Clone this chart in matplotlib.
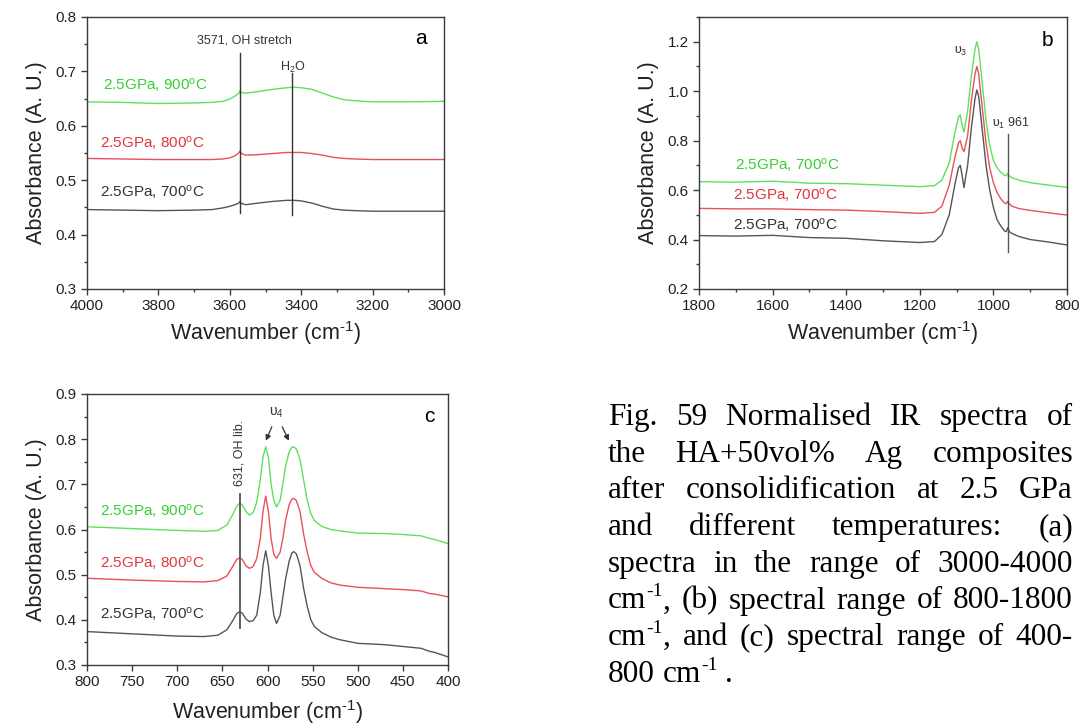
import re
import matplotlib
matplotlib.use("Agg")
import matplotlib.pyplot as plt
from matplotlib.ticker import MultipleLocator

plt.rcParams['font.family'] = ['Liberation Sans', 'DejaVu Sans']
plt.rcParams['mathtext.default'] = 'regular'

# ---------------- data ----------------
# (a) 4000-3000 cm-1
wn_a = [4000, 3900, 3800, 3700, 3650, 3620, 3600, 3585, 3575, 3571, 3567, 3555,
        3520, 3480, 3440, 3420, 3400, 3370, 3340, 3310, 3280, 3250, 3200, 3100, 3000]
a_700 = [0.446, 0.445, 0.444, 0.445, 0.446, 0.449, 0.452, 0.455, 0.458, 0.461, 0.457, 0.455,
         0.458, 0.461, 0.463, 0.463, 0.462, 0.458, 0.452, 0.447, 0.445, 0.444, 0.443, 0.443, 0.443]
a_800 = [0.540, 0.539, 0.538, 0.538, 0.538, 0.539, 0.541, 0.545, 0.550, 0.554, 0.549, 0.546,
         0.547, 0.549, 0.551, 0.551, 0.551, 0.549, 0.546, 0.542, 0.540, 0.539, 0.538, 0.538, 0.538]
a_900 = [0.644, 0.643, 0.641, 0.642, 0.643, 0.645, 0.649, 0.655, 0.660, 0.665, 0.661, 0.660,
         0.663, 0.667, 0.670, 0.671, 0.670, 0.667, 0.660, 0.653, 0.648, 0.646, 0.644, 0.644, 0.645]

# (b) 1800-800 cm-1
wn_b = [1800, 1700, 1600, 1500, 1400, 1300, 1200, 1160, 1140, 1120, 1105, 1095, 1090, 1085,
        1080, 1070, 1060, 1050, 1045, 1040, 1030, 1020, 1010, 1000, 990, 980, 970, 965, 961,
        957, 950, 930, 900, 850, 800]
b_1 = [0.416, 0.414, 0.417, 0.408, 0.405, 0.395, 0.388, 0.392, 0.420, 0.500, 0.620, 0.690, 0.700,
       0.660, 0.610, 0.700, 0.850, 0.970, 1.005, 0.980, 0.840, 0.700, 0.600, 0.530, 0.480, 0.455,
       0.435, 0.432, 0.448, 0.432, 0.425, 0.412, 0.400, 0.390, 0.378]
b_2 = [0.526, 0.524, 0.524, 0.521, 0.519, 0.513, 0.506, 0.510, 0.535, 0.620, 0.730, 0.790, 0.800,
       0.770, 0.755, 0.820, 0.960, 1.070, 1.100, 1.070, 0.930, 0.790, 0.690, 0.630, 0.590, 0.565,
       0.548, 0.545, 0.555, 0.545, 0.535, 0.525, 0.518, 0.508, 0.499]
b_3 = [0.634, 0.632, 0.636, 0.628, 0.626, 0.620, 0.614, 0.618, 0.640, 0.710, 0.830, 0.895, 0.904,
       0.860, 0.835, 0.920, 1.060, 1.170, 1.200, 1.170, 1.030, 0.880, 0.780, 0.720, 0.690, 0.672,
       0.660, 0.658, 0.668, 0.658, 0.650, 0.640, 0.630, 0.620, 0.611]

# (c) 800-400 cm-1
wn_c = [800, 750, 700, 670, 655, 645, 638, 634, 631, 628, 624, 620, 616, 612, 608, 605, 602, 599,
        596, 593, 590, 586, 583, 580, 576, 573, 571, 568, 564, 560, 556, 552, 548, 540, 530, 520,
        500, 470, 450, 430, 420, 415, 400]
c_700 = [0.374, 0.369, 0.364, 0.363, 0.366, 0.378, 0.400, 0.414, 0.418, 0.415, 0.402, 0.396, 0.398,
         0.410, 0.460, 0.520, 0.553, 0.520, 0.460, 0.410, 0.392, 0.410, 0.450, 0.490, 0.530, 0.548,
         0.551, 0.546, 0.520, 0.470, 0.430, 0.400, 0.385, 0.372, 0.362, 0.356, 0.348, 0.345, 0.341,
         0.337, 0.330, 0.328, 0.318]
c_800 = [0.492, 0.488, 0.485, 0.484, 0.487, 0.497, 0.520, 0.534, 0.537, 0.534, 0.520, 0.514, 0.518,
         0.535, 0.580, 0.640, 0.674, 0.640, 0.580, 0.545, 0.536, 0.550, 0.580, 0.620, 0.655, 0.667,
         0.669, 0.664, 0.640, 0.590, 0.550, 0.520, 0.505, 0.492, 0.482, 0.477, 0.472, 0.469, 0.467,
         0.464, 0.458, 0.457, 0.451]
c_900 = [0.606, 0.602, 0.598, 0.596, 0.598, 0.610, 0.635, 0.652, 0.658, 0.655, 0.640, 0.632, 0.637,
         0.660, 0.710, 0.760, 0.783, 0.760, 0.700, 0.665, 0.650, 0.665, 0.700, 0.740, 0.772, 0.782,
         0.783, 0.778, 0.755, 0.710, 0.665, 0.635, 0.620, 0.607, 0.600, 0.597, 0.592, 0.591, 0.589,
         0.586, 0.580, 0.578, 0.569]

labels_a = ["2.5GPa, 700$^o$C", "2.5GPa, 800$^o$C", "2.5GPa, 900$^o$C"]
labels_b = ["2.5GPa, 700$^o$C", "2.5GPa, 700$^o$C", "2.5GPa, 700$^o$C"]
labels_c = ["2.5GPa, 700$^o$C", "2.5GPa, 800$^o$C", "2.5GPa, 900$^o$C"]

line_colors = ["#555555", "#e8505a", "#5ee05e"]
text_colors = ["#333333", "#e0353d", "#33d033"]

# ^{...} marks a superscript in the caption
caption_lines = [
    "Fig. 59 Normalised IR spectra of",
    "the HA+50vol% Ag composites",
    "after consolidification at 2.5 GPa",
    "and different temperatures: (a)",
    "spectra in the range of 3000-4000",
    "cm^{-1}, (b) spectral range of 800-1800",
    "cm^{-1},  and (c) spectral range of 400-",
    "800 cm^{-1} .",
]

# ---------------- figure ----------------
W, H = 1087, 728
fig = plt.figure(figsize=(W / 100, H / 100), dpi=100)
fig.patch.set_facecolor("white")


def px_axes(left, top, right, bottom):
    return fig.add_axes([left / W, 1 - bottom / H, (right - left) / W, (bottom - top) / H])


def style(ax):
    for s in ax.spines.values():
        s.set_color("#3a3a3a")
        s.set_linewidth(1.0)
    ax.tick_params(which="both", direction="out", top=False, right=False,
                   colors="#3a3a3a", labelcolor="#222222", labelsize=11)
    ax.tick_params(which="major", length=4, width=1)
    ax.tick_params(which="minor", length=2.5, width=1)
    ax.set_ylabel("Absorbance (A. U.)", fontsize=15.5, color="#222222", labelpad=6)
    ax.set_xlabel("Wavenumber (cm$^{\u20101}$)", fontsize=15.5, color="#222222", labelpad=4)


def draw_series(ax, x, ys):
    for y, c in zip(ys, line_colors):
        ax.plot(x, y, color=c, lw=1.0)


def draw_labels(ax, labels, positions):
    for lab, (fx, fy), c in zip(labels, positions, text_colors):
        ax.text(fx, fy, lab, transform=ax.transAxes, color=c, fontsize=11,
                ha="left", va="center")


# panel a
ax_a = px_axes(87, 17, 444, 289)
draw_series(ax_a, wn_a, [a_700, a_800, a_900])
ax_a.set_xlim(4000, 3000)
ax_a.set_ylim(0.3, 0.8)
ax_a.xaxis.set_major_locator(MultipleLocator(200))
ax_a.xaxis.set_minor_locator(MultipleLocator(100))
ax_a.yaxis.set_major_locator(MultipleLocator(0.1))
ax_a.yaxis.set_minor_locator(MultipleLocator(0.05))
style(ax_a)
draw_labels(ax_a, labels_a, [(0.036, 0.357), (0.036, 0.537), (0.045, 0.750)])
ax_a.plot([3571, 3571], [0.44, 0.734], color="#333333", lw=1.0)
ax_a.plot([3425, 3425], [0.436, 0.697], color="#333333", lw=1.0)
ax_a.text(3560, 0.756, "3571, OH stretch", fontsize=9, color="#333333", ha="center", va="center")
ax_a.text(3425, 0.708, "H$_2$O", fontsize=9, color="#333333", ha="center", va="center")
ax_a.text(0.935, 0.92, "a", transform=ax_a.transAxes, fontsize=15, ha="center", va="center")

# panel b
ax_b = px_axes(699, 17, 1067, 289)
draw_series(ax_b, wn_b, [b_1, b_2, b_3])
ax_b.set_xlim(1800, 800)
ax_b.set_ylim(0.2, 1.3)
ax_b.xaxis.set_major_locator(MultipleLocator(200))
ax_b.xaxis.set_minor_locator(MultipleLocator(100))
ax_b.yaxis.set_major_locator(MultipleLocator(0.2))
ax_b.yaxis.set_minor_locator(MultipleLocator(0.1))
style(ax_b)
draw_labels(ax_b, labels_b, [(0.092, 0.235), (0.092, 0.345), (0.098, 0.455)])
ax_b.plot([961, 961], [0.348, 0.825], color="#555555", lw=1.0)
ax_b.text(953, 0.87, "υ$_1$ 961", fontsize=9, color="#333333", ha="center", va="center")
ax_b.text(1088, 1.16, "υ$_3$", fontsize=9, color="#333333", ha="center", va="center")
ax_b.text(0.948, 0.915, "b", transform=ax_b.transAxes, fontsize=15, ha="center", va="center")

# panel c
ax_c = px_axes(87, 394, 448, 665)
draw_series(ax_c, wn_c, [c_700, c_800, c_900])
ax_c.set_xlim(800, 400)
ax_c.set_ylim(0.3, 0.9)
ax_c.xaxis.set_major_locator(MultipleLocator(50))
ax_c.yaxis.set_major_locator(MultipleLocator(0.1))
ax_c.yaxis.set_minor_locator(MultipleLocator(0.05))
style(ax_c)
ax_c.xaxis.labelpad = 6
draw_labels(ax_c, labels_c, [(0.036, 0.190), (0.036, 0.375), (0.036, 0.570)])
ax_c.plot([631, 631], [0.381, 0.678], color="#555555", lw=1.3)
ax_c.text(631, 0.77, "631, OH lib.", rotation=90, fontsize=9, color="#333333",
          ha="center", va="center")
ax_c.text(590, 0.858, "υ$_4$", fontsize=10, color="#333333", ha="center", va="center")
arrow_kw = dict(arrowstyle="-|>", color="#333333", lw=0.9, mutation_scale=8)
ax_c.annotate("", xy=(603, 0.791), xytext=(594, 0.833), arrowprops=arrow_kw)
ax_c.annotate("", xy=(575, 0.791), xytext=(585, 0.833), arrowprops=arrow_kw)
ax_c.text(0.948, 0.918, "c", transform=ax_c.transAxes, fontsize=15, ha="center", va="center")

# ---------------- justified caption ----------------
renderer = fig.canvas.get_renderer()
cap_left, cap_right = 608, 1073
base0, step = 425, 36.7
cap_size, sup_size, sup_raise = 22.5, 14, 12
serif = ["Liberation Serif", "DejaVu Serif"]


def make_word(word, baseline):
    """Create the text pieces of one word; returns (pieces, total width)."""
    parts = re.split(r"\^\{([^}]*)\}", word)
    pieces = []
    width = 0.0
    for k, seg in enumerate(parts):
        if not seg:
            continue
        is_sup = k % 2 == 1
        size = sup_size if is_sup else cap_size
        y = baseline - (sup_raise if is_sup else 0)
        t = fig.text(0, 1 - y / H, seg, ha="left", va="baseline",
                     family=serif, size=size, color="black")
        w = t.get_window_extent(renderer).width
        pieces.append((t, width))
        width += w
    return pieces, width


for i, line in enumerate(caption_lines):
    baseline = base0 + i * step
    words = [make_word(w, baseline) for w in line.split()]
    total = sum(w for _, w in words)
    last = i == len(caption_lines) - 1
    if last or len(words) == 1:
        gap = 0.25 * cap_size * 100 / 72
    else:
        gap = (cap_right - cap_left - total) / (len(words) - 1)
    x = cap_left
    for pieces, w in words:
        for t, off in pieces:
            t.set_x((x + off) / W)
        x += w + gap

fig.savefig("out.png", dpi=100, facecolor="white")
